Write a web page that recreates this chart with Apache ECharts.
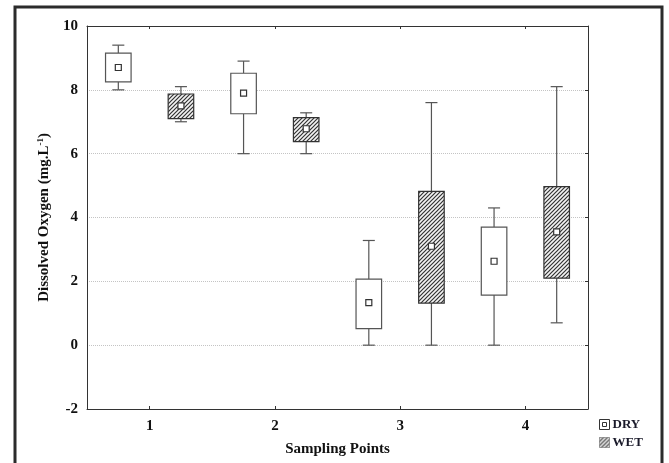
<!DOCTYPE html>
<html>
<head>
<meta charset="utf-8">
<script src="https://cdn.jsdelivr.net/npm/echarts@6/dist/echarts.min.js"></script>
<style>
html,body{margin:0;padding:0;background:#fff;}
#chart{width:669px;height:463px;}
</style>
</head>
<body>
<div id="chart"></div>
<script>
// ---- data ----
var categories = ['1', '2', '3', '4'];
var yTicks = [-2, 0, 2, 4, 6, 8, 10];

var dryMin  = [8.0, 6.0, 0.0, 0.0];
var dryQ1   = [8.25, 7.25, 0.52, 1.57];
var dryQ3   = [9.15, 8.52, 2.07, 3.70];
var dryMax  = [9.40, 8.90, 3.28, 4.30];
var dryMean = [8.70, 7.90, 1.33, 2.63];

var wetMin  = [7.00, 6.00, 0.00, 0.70];
var wetQ1   = [7.10, 6.38, 1.32, 2.10];
var wetQ3   = [7.87, 7.13, 4.82, 4.97];
var wetMax  = [8.10, 7.28, 7.60, 8.10];
var wetMean = [7.50, 6.78, 3.10, 3.55];

// ---- hatch pattern ----
function makeHatch() {
  var c = document.createElement('canvas');
  c.width = 4; c.height = 4;
  var ctx = c.getContext('2d');
  ctx.fillStyle = '#f4f4f4';
  ctx.fillRect(0, 0, 4, 4);
  ctx.strokeStyle = '#333333';
  ctx.lineWidth = 1.2;
  ctx.beginPath();
  ctx.moveTo(0, 4); ctx.lineTo(4, 0);
  ctx.moveTo(-1, 1); ctx.lineTo(1, -1);
  ctx.moveTo(3, 5); ctx.lineTo(5, 3);
  ctx.stroke();
  return c;
}
var hatch = { image: makeHatch(), repeat: 'repeat' };

function buildData(mn, q1, q3, mx, mean) {
  return categories.map(function (c, i) {
    return [i, mn[i], q1[i], q3[i], mx[i], mean[i]];
  });
}

function makeRender(offsetFrac, fill, boxStroke, whiskerStroke) {
  return function (params, api) {
    var idx = api.value(0);
    var band = api.size([1, 0])[0];
    var cx = api.coord([idx, 0])[0] + offsetFrac * band;
    var yMin = api.coord([idx, api.value(1)])[1];
    var yQ1 = api.coord([idx, api.value(2)])[1];
    var yQ3 = api.coord([idx, api.value(3)])[1];
    var yMax = api.coord([idx, api.value(4)])[1];
    var yMean = api.coord([idx, api.value(5)])[1];
    var hw = band * 0.102;
    var cap = band * 0.048;
    var m = 3;
    var ls = { stroke: whiskerStroke, lineWidth: 1.2 };
    return {
      type: 'group',
      children: [
        { type: 'line', shape: { x1: cx, y1: yMax, x2: cx, y2: yQ3 }, style: ls },
        { type: 'line', shape: { x1: cx, y1: yQ1, x2: cx, y2: yMin }, style: ls },
        { type: 'line', shape: { x1: cx - cap, y1: yMax, x2: cx + cap, y2: yMax }, style: ls },
        { type: 'line', shape: { x1: cx - cap, y1: yMin, x2: cx + cap, y2: yMin }, style: ls },
        { type: 'rect', shape: { x: cx - hw, y: yQ3, width: 2 * hw, height: yQ1 - yQ3 },
          style: { fill: fill, stroke: boxStroke, lineWidth: 1.2 } },
        { type: 'rect', shape: { x: cx - m, y: yMean - m, width: 2 * m, height: 2 * m },
          style: { fill: '#ffffff', stroke: '#333333', lineWidth: 1.2 } }
      ]
    };
  };
}

var serif = '"Liberation Serif", "Times New Roman", serif';
var chart = echarts.init(document.getElementById('chart'));
chart.setOption({
  backgroundColor: '#ffffff',
  animation: false,
  grid: { left: 87, top: 26, right: 81, bottom: 54, show: false },
  legend: {
    orient: 'vertical',
    left: 594, top: 413,
    itemWidth: 10, itemHeight: 10, itemGap: 5,
    textStyle: { fontFamily: serif, fontWeight: 'bold', fontSize: 13, color: '#1a1a2a', padding: [0, 0, 0, -2] },
    data: [
      { name: 'DRY', icon: 'path://M0,0H10V10H0Z M3,3V7H7V3Z', itemStyle: { color: '#ffffff', borderColor: '#333', borderWidth: 1 } },
      { name: 'WET', icon: 'rect', itemStyle: { color: hatch, borderColor: '#555', borderWidth: 1, borderType: 'dotted' } }
    ]
  },
  xAxis: [
    {
      type: 'category', data: categories, position: 'bottom',
      axisLine: { onZero: false, lineStyle: { color: '#333', width: 1 } },
      axisTick: { show: true, inside: true, alignWithLabel: true, length: 3, lineStyle: { color: '#333' } },
      axisLabel: { fontFamily: serif, fontWeight: 'bold', fontSize: 15, color: '#111', margin: 10 },
      name: 'Sampling Points', nameLocation: 'middle', nameGap: 33,
      nameTextStyle: { fontFamily: serif, fontWeight: 'bold', fontSize: 15, color: '#111' },
      splitLine: { show: false }
    },
    {
      type: 'category', data: categories, position: 'top',
      axisLine: { onZero: false, lineStyle: { color: '#333', width: 1 } },
      axisTick: { show: true, inside: true, alignWithLabel: true, length: 3, lineStyle: { color: '#333' } },
      axisLabel: { show: false }, splitLine: { show: false }
    }
  ],
  yAxis: [
    {
      type: 'value', min: yTicks[0], max: yTicks[yTicks.length - 1], interval: 2, position: 'left',
      axisLine: { show: true, onZero: false, lineStyle: { color: '#333', width: 1 } },
      axisTick: { show: false },
      axisLabel: { fontFamily: serif, fontWeight: 'bold', fontSize: 15, color: '#111', margin: 9 },
      splitLine: { show: true, lineStyle: { type: 'dotted', color: '#c4c4c4', width: 1 } },
      name: 'Dissolved Oxygen (mg.L{sup|-1})', nameLocation: 'middle', nameGap: 32,
      nameTextStyle: {
        fontFamily: serif, fontWeight: 'bold', fontSize: 15, color: '#111',
        rich: { sup: { fontFamily: serif, fontWeight: 'bold', fontSize: 9, color: '#111', padding: [0, 0, 7, 0] } }
      }
    },
    {
      type: 'value', min: yTicks[0], max: yTicks[yTicks.length - 1], interval: 2, position: 'right',
      axisLine: { show: true, onZero: false, lineStyle: { color: '#333', width: 1 } },
      axisTick: { show: true, inside: true, length: 3, lineStyle: { color: '#333' } },
      axisLabel: { show: false }, splitLine: { show: false }
    }
  ],
  series: [
    {
      name: 'DRY', type: 'custom', xAxisIndex: 0, yAxisIndex: 0,
      itemStyle: { color: '#ffffff', borderColor: '#333' },
      renderItem: makeRender(-0.25, '#ffffff', '#555555', '#555555'),
      encode: { x: 0, y: [1, 2, 3, 4, 5] },
      data: buildData(dryMin, dryQ1, dryQ3, dryMax, dryMean),
      z: 3
    },
    {
      name: 'WET', type: 'custom', xAxisIndex: 0, yAxisIndex: 0,
      itemStyle: { color: hatch, borderColor: '#333' },
      renderItem: makeRender(0.25, hatch, '#333333', '#555555'),
      encode: { x: 0, y: [1, 2, 3, 4, 5] },
      data: buildData(wetMin, wetQ1, wetQ3, wetMax, wetMean),
      z: 3
    }
  ],
  graphic: [
    {
      type: 'rect', silent: true, z: 100,
      shape: { x: 15, y: 7, width: 647, height: 480 },
      style: { fill: 'none', stroke: '#2b2b2b', lineWidth: 3 }
    }
  ]
});
</script>
</body>
</html>
